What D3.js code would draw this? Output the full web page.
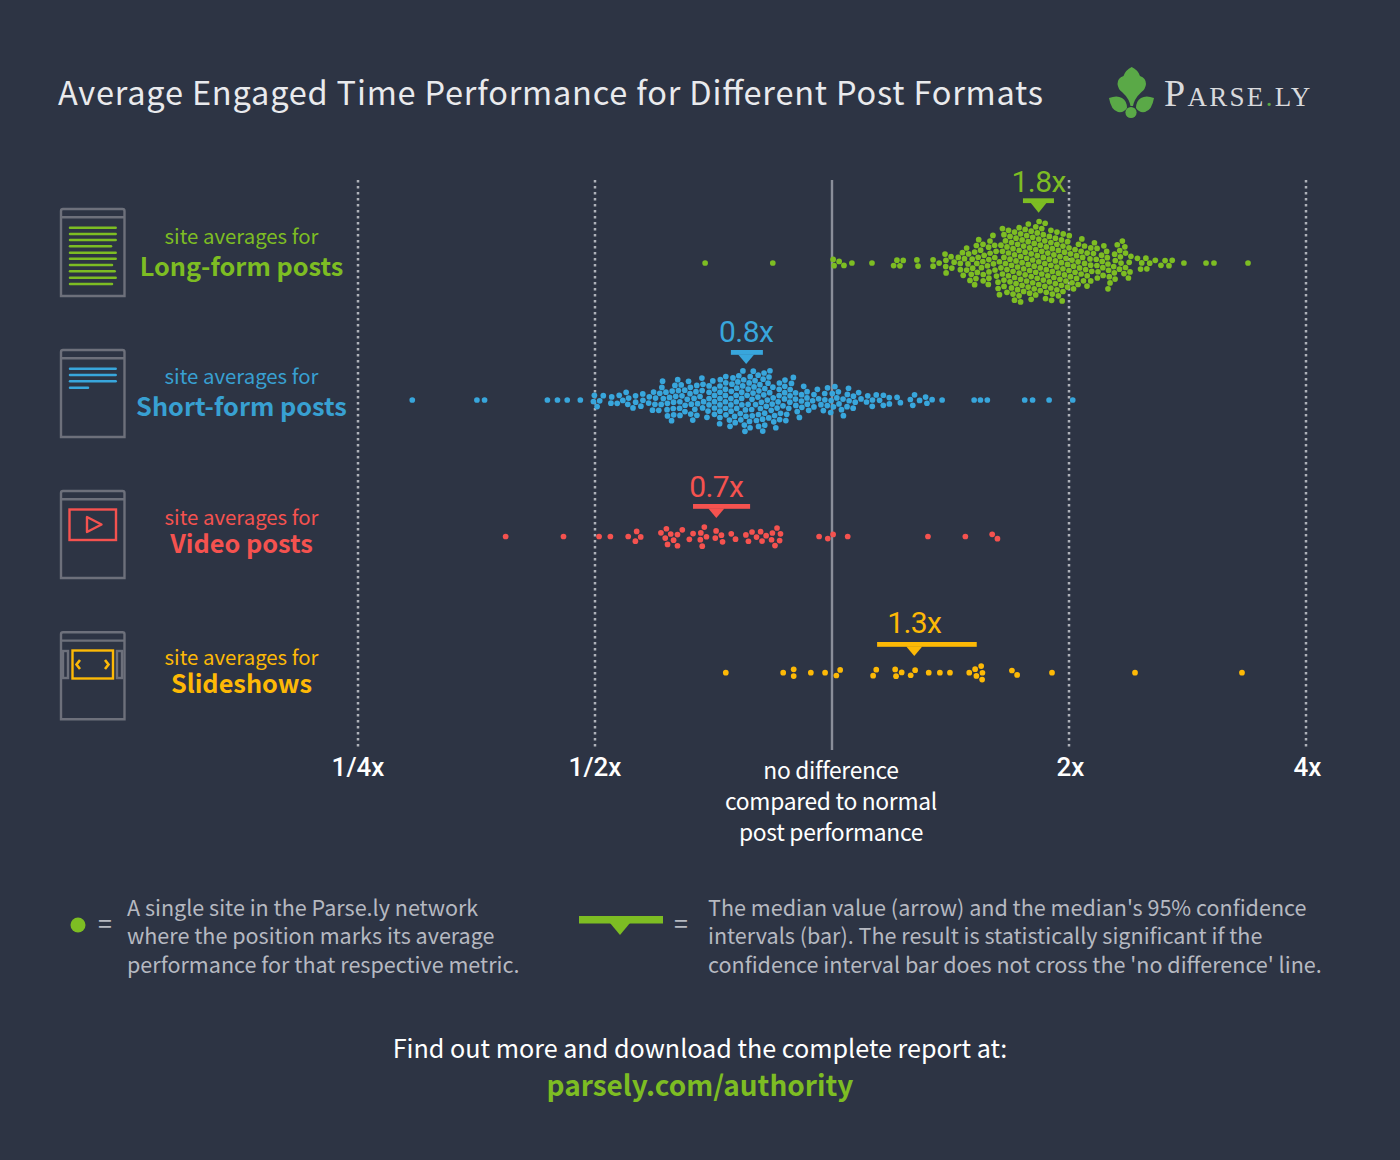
<!DOCTYPE html>
<html><head><meta charset="utf-8">
<script src="https://cdn.jsdelivr.net/npm/d3@7"></script>
<style>
html,body{margin:0;padding:0;background:#2d3444}
svg{display:block}
text{font-family:"Noto Sans CJK SC","Noto Sans",sans-serif}
</style></head><body>
<svg id="c" width="1400" height="1160"></svg>
<script>
const categories=["Long-form posts","Short-form posts","Video posts","Slideshows"];
const colors=["#7dbd23","#38a6dc","#f5524f","#fdb906"];
const textColors=["#7dbd23","#38a0d2","#f5524f","#fdb906"];
const medians=[1.83,0.778,0.713,1.272];
const ciLow=[1.748,0.744,0.666,1.141];
const ciHigh=[1.914,0.817,0.787,1.527];
const medianLabels=["1.8x","0.8x","0.7x","1.3x"];
const tickValues=[0.25,0.5,1,2,4];
const tickLabels=["1/4x","1/2x","","2x","4x"];

const longForm=[0.690,0.841,1.004,1.006,1.021,1.035,1.060,1.124,1.198,1.209,1.220,1.231,1.282,1.286,1.344,1.344,1.368,
1.392,1.396,1.396,1.396,1.416,1.419,1.429,1.448,1.457,1.457,1.467,1.471,1.476,1.482,1.488,1.493,1.497,
1.501,1.503,1.508,1.511,1.516,1.518,1.523,1.526,1.531,1.533,1.539,1.540,1.546,1.548,1.553,1.557,1.559,1.565,1.567,1.572,1.575,1.579,1.583,1.587,1.590,1.595,1.597,1.603,1.605,1.610,1.613,1.617,1.621,1.626,1.630,
1.636,1.638,1.643,1.645,1.649,1.651,1.655,1.657,
1.660,1.663,1.665,1.668,1.669,1.672,1.675,1.676,1.680,1.681,1.684,1.686,1.689,1.690,1.693,1.695,1.698,1.699,1.702,1.705,1.706,
1.708,1.711,1.712,1.715,1.716,1.718,1.721,1.723,1.726,1.727,1.729,1.732,1.733,1.736,1.737,1.739,1.743,1.744,1.747,1.748,1.750,1.753,1.754,1.757,1.758,1.761,1.764,1.765,1.768,1.769,1.771,1.774,1.775,1.778,1.780,1.782,1.785,1.786,1.789,1.790,1.792,1.795,1.796,1.799,1.802,1.803,1.806,1.807,1.810,1.811,1.813,1.816,1.818,1.821,1.822,1.824,1.827,1.828,1.831,1.832,1.834,1.837,
1.839,1.843,1.844,1.848,1.850,1.853,1.855,1.859,1.860,1.864,1.866,1.869,1.871,1.875,1.876,1.880,1.882,1.885,1.887,1.891,1.892,1.896,1.898,1.901,1.903,1.907,1.908,1.912,1.914,1.917,1.919,1.923,1.924,1.928,1.930,1.933,1.935,1.939,1.940,1.944,1.946,1.949,
1.951,1.955,1.957,1.961,1.963,1.967,1.969,1.973,1.975,1.979,1.981,1.985,1.987,1.991,1.993,1.997,1.999,2.003,
2.010,2.015,2.019,2.025,2.028,2.034,2.038,2.043,2.047,2.052,2.056,2.062,2.065,2.071,2.075,2.080,2.084,2.089,2.093,2.099,2.102,2.108,2.112,2.117,2.121,2.126,
2.132,2.139,2.145,2.152,2.158,2.166,2.171,2.179,2.184,2.192,2.198,2.205,2.211,2.218,2.224,2.232,2.237,2.245,2.250,2.258,2.264,2.271,2.277,2.284,2.290,2.298,2.303,2.311,2.316,2.324,2.330,2.337,2.343,2.350,2.356,2.364,2.369,2.377,2.382,2.390,
2.445,2.469,2.472,2.505,2.510,2.532,2.572,2.618,2.648,2.680,2.704,2.799,2.986,3.056,3.376];

const shortForm=[0.293,0.354,0.362,0.435,0.448,0.461,0.479,0.498,0.499,0.503,0.507,0.512,0.524,0.525,0.534,0.537,0.542,0.548,0.551,0.551,0.558,0.563,0.563,0.572,0.575,0.575,0.585,0.586,0.592,0.594,0.597,0.597,0.603,0.605,0.607,0.609,0.610,0.613,0.615,0.620,0.620,0.620,0.622,0.625,0.626,0.626,
0.628,0.631,0.632,0.634,0.636,0.638,0.640,0.642,0.643,0.645,0.647,0.649,0.651,0.652,0.654,0.656,0.658,0.660,0.661,0.663,0.665,0.667,0.669,0.671,0.673,0.675,0.677,0.679,
0.681,0.684,0.685,0.688,0.689,0.692,0.694,0.696,0.697,0.700,0.702,0.704,0.706,0.708,0.710,0.712,0.714,0.716,0.717,0.720,0.721,0.724,0.725,0.727,0.729,0.730,
0.732,0.734,0.735,0.737,0.738,0.739,0.741,0.742,0.744,0.745,0.746,0.748,0.749,0.751,0.752,0.753,0.755,0.757,0.758,0.759,0.761,0.762,0.764,0.765,0.767,0.768,0.769,0.771,0.772,0.774,0.775,
0.776,0.778,0.779,0.781,0.782,0.783,0.785,0.786,0.788,0.789,0.790,0.792,0.793,0.794,0.796,0.797,0.798,0.800,0.801,0.803,0.804,0.805,0.806,0.808,0.809,0.810,0.811,
0.812,0.814,0.815,0.817,0.818,0.820,0.822,0.823,0.825,0.826,0.828,0.830,0.831,0.833,0.834,0.836,0.838,0.839,0.841,0.842,0.844,0.845,0.847,
0.848,0.851,0.854,0.855,0.858,0.860,0.863,0.864,0.867,0.870,0.871,0.874,0.876,0.879,0.880,0.883,0.884,
0.888,0.892,0.895,0.899,0.901,0.906,0.908,0.913,0.915,0.919,0.922,0.926,0.928,0.931,
0.935,0.941,0.947,0.951,0.957,0.962,
0.969,0.975,0.980,0.980,0.986,0.992,0.997,0.997,0.999,1.004,1.010,1.015,1.015,1.022,1.028,1.033,1.033,1.046,1.046,1.049,1.051,1.063,1.063,1.067,1.079,1.089,1.106,1.111,1.125,1.125,1.138,1.150,1.162,1.163,1.181,1.182,1.210,1.221,1.259,1.266,1.272,1.292,1.315,1.320,1.340,1.380,1.516,1.543,1.575,1.757,1.798,1.887,2.022];

const video=[0.385,0.456,0.506,0.523,0.551,0.563,0.565,0.571,0.607,0.614,0.616,0.618,0.625,0.630,0.635,0.636,0.645,0.659,0.666,0.681,0.682,0.684,0.688,0.692,0.711,0.713,0.723,0.726,0.745,0.754,0.778,0.783,0.791,0.802,0.812,0.815,0.825,0.838,0.840,0.846,0.851,0.858,0.860,0.963,0.988,1.003,1.047,1.324,1.477,1.598,1.622];

const slideshows=[0.733,0.867,0.894,0.894,0.940,0.980,1.013,1.024,1.128,1.138,1.203,1.206,1.226,1.259,1.275,1.327,1.371,1.412,1.494,1.521,1.527,1.546,1.550,1.552,1.693,1.718,1.903,2.426,3.317];

const seriesValues=[longForm,shortForm,video,slideshows];
const rowCenters=[263,400,536.5,672.7];
const pullX=[0.5,0.5,0.9,0.9];
const collideR=[3.15,3.15,3.4,3.4];

const svg=d3.select("#c");
svg.append("rect").attr("width",1400).attr("height",1160).attr("fill","#2d3444");
const x=d3.scaleLog().base(2).domain([0.25,4]).range([358,1306]);

// Title
svg.append("text").attr("x",58).attr("y",104.500).attr("font-size",32.500).attr("fill","#e9eaed")
 .attr("textLength",985).attr("lengthAdjust","spacing")
 .text("Average Engaged Time Performance for Different Post Formats");

// Logo
const leafC="#5aa947";
const logo=svg.append("g");
logo.append("path").attr("fill",leafC).attr("d","M1131.700 67 Q1138 70 1140 76 Q1146 78 1146 84 Q1145.500 89 1141.500 92 Q1137 96 1135 100 Q1133.500 103 1133 106 L1130.500 106 Q1130 103 1128.500 100 Q1126.500 96 1122 92 Q1118 89 1117.500 84 Q1117.500 78 1123.500 76 Q1125.500 70 1131.700 67Z");
logo.append("path").attr("fill",leafC).attr("d","M1109 98 Q1117 95 1122 98 Q1127 101 1127 108 Q1124 113 1118 112 Q1111 110 1109 98Z");
logo.append("path").attr("fill",leafC).attr("d","M1154 98 Q1146 95 1141 98 Q1136 101 1136 108 Q1139 113 1145 112 Q1152 110 1154 98Z");
logo.append("circle").attr("cx",1131).attr("cy",112.500).attr("r",5.600).attr("fill",leafC);
const lt=logo.append("text").attr("x",1164).attr("y",105.500).style("font-family","'Liberation Serif',serif").attr("fill","#d9dadd").attr("letter-spacing",2.300);
lt.append("tspan").attr("font-size",38).text("P");
lt.append("tspan").attr("font-size",27).text("ARSE");
lt.append("tspan").attr("font-size",27).attr("fill",leafC).text(".");
lt.append("tspan").attr("font-size",27).text("LY");

// Axis with gridlines
const axisG=svg.append("g").attr("transform","translate(0,750)");
axisG.call(d3.axisBottom(x).tickValues(tickValues).tickSizeInner(-570).tickSizeOuter(0).tickPadding(6).offset(0)
  .tickFormat((d,i)=>tickLabels[i]));
axisG.select(".domain").remove();
axisG.selectAll(".tick line").attr("stroke-width",d=>d===1?2.400:2.500)
  .attr("stroke-dasharray",d=>d===1?null:"2.500 3.500")
  .attr("stroke-dashoffset",2.550)
  .attr("stroke",d=>d===1?"#8a8e9a":"#aeb1b9");
axisG.selectAll(".tick text").attr("fill","#fff").attr("font-size",26).attr("font-weight",500).attr("y",8).attr("dy","18px")
  .attr("x",d=>d>=2?1.500:0)
  .style("font-family","Roboto,sans-serif");

const note=svg.append("text").attr("text-anchor","middle").attr("fill","#fff").attr("font-size",22.800);
["no difference","compared to normal","post performance"].forEach((t,i)=>note.append("tspan").attr("x",831).attr("y",778.500+i*31).attr("letter-spacing",-0.300).text(t));

// Icons
const iconTop=[209,350,491,632.300];
const iconStroke="#6d707b";
svg.append("rect").attr("x",63).attr("y",651).attr("width",5).attr("height",27).attr("fill","none").attr("stroke",iconStroke).attr("stroke-width",2.400);
svg.append("rect").attr("x",117).attr("y",651).attr("width",5).attr("height",27).attr("fill","none").attr("stroke",iconStroke).attr("stroke-width",2.400);
iconTop.forEach(t=>{
 const g=svg.append("g").attr("fill","none").attr("stroke",iconStroke).attr("stroke-width",2.400);
 g.append("path").attr("d",`M61 ${t+2} Q61 ${t} 63 ${t} L122.500 ${t} Q124.500 ${t} 124.500 ${t+2} L124.500 ${t+87} L61 ${t+87} Z`);
 g.append("line").attr("x1",61).attr("x2",124.500).attr("y1",t+8.300).attr("y2",t+8.300);
});
const longLineEnds=[116.700,116.700,116.700,112,116.700,116.700,113,115.700,116.700,113];
const longLineY=[227.700,234,240,246.300,252.700,258.700,265,271.300,277.700,284];
longLineEnds.forEach((e,i)=>svg.append("line").attr("x1",70).attr("x2",e-1).attr("y1",longLineY[i]).attr("y2",longLineY[i]).attr("stroke",colors[0]).attr("stroke-width",2.500).attr("stroke-linecap","round"));
const shortLineEnds=[116.700,116.700,116.700,89];
const shortLineY=[368.700,375,381.300,387.700];
shortLineEnds.forEach((e,i)=>svg.append("line").attr("x1",70).attr("x2",e-1).attr("y1",shortLineY[i]).attr("y2",shortLineY[i]).attr("stroke",colors[1]).attr("stroke-width",2.500).attr("stroke-linecap","round"));
svg.append("rect").attr("x",69.500).attr("y",509.500).attr("width",46.500).attr("height",30.500).attr("fill","none").attr("stroke",colors[2]).attr("stroke-width",2.400);
svg.append("path").attr("d","M87 517 L87 532 L101.500 524.500 Z").attr("fill","none").attr("stroke",colors[2]).attr("stroke-width",2.400).attr("stroke-linejoin","round");
svg.append("rect").attr("x",72.500).attr("y",650.500).attr("width",40.500).attr("height",28).attr("fill","#2d3444").attr("stroke",colors[3]).attr("stroke-width",2.400);
svg.append("path").attr("d","M80 660 L76.500 664.500 L80 669 M105 660 L108.500 664.500 L105 669").attr("fill","none").attr("stroke",colors[3]).attr("stroke-width",2.600);

// Row labels
const smallBase=[244,384.300,525,665.200];
const boldBase=[276,416,552.500,692.800];
categories.forEach((c,i)=>{
 svg.append("text").attr("x",241.500).attr("y",smallBase[i]).attr("text-anchor","middle").attr("font-size",20.400).attr("fill",textColors[i]).text("site averages for");
 svg.append("text").attr("x",241.500).attr("y",boldBase[i]).attr("text-anchor","middle").attr("font-size",25.300).attr("font-weight",700).attr("fill",textColors[i]).text(c);
});

// Swarms
seriesValues.forEach((vals,i)=>{
 const nodes=vals.map(v=>({v,tx:x(v),x:x(v),y:rowCenters[i]}));
 const sim=d3.forceSimulation(nodes)
   .force("x",d3.forceX(d=>d.tx).strength(pullX[i]))
   .force("y",d3.forceY(rowCenters[i]).strength(0.03))
   .force("c",d3.forceCollide(collideR[i]).iterations(6))
   .alphaDecay(0.012)
   .stop();
 sim.tick(560);
 svg.append("g").selectAll("circle").data(nodes).join("circle")
   .attr("cx",d=>d.x).attr("cy",d=>d.y).attr("r",2.850).attr("fill",colors[i]);
});

// Median markers
const barTopOffset=[-64.700,-50,-32.500,-30.700];
const tipOffset=[-50.300,-36,-18.500,-16.700];
const labelOffset=[-71.500,-58.300,-39.800,-39.400];
categories.forEach((c,i)=>{
 const mx=x(medians[i]),cy=rowCenters[i];
 svg.append("rect").attr("x",x(ciLow[i])).attr("width",x(ciHigh[i])-x(ciLow[i])).attr("y",cy+barTopOffset[i]).attr("height",4.800).attr("fill",colors[i]);
 svg.append("path").attr("d",d3.line()([[mx-8,cy+barTopOffset[i]+4.500],[mx+8,cy+barTopOffset[i]+4.500],[mx,cy+tipOffset[i]]])+"Z").attr("fill",colors[i]);
 svg.append("text").attr("x",mx).attr("y",cy+labelOffset[i]).attr("text-anchor","middle").style("font-family","Roboto,sans-serif").attr("font-size",30).attr("letter-spacing",-0.600).attr("fill",colors[i]).text(medianLabels[i]);
});

// Legend
const legendColor="#b6b9c1";
svg.append("circle").attr("cx",78).attr("cy",925).attr("r",7.500).attr("fill",colors[0]);
svg.append("text").attr("x",98).attr("y",933).attr("font-size",25).attr("fill",legendColor).text("=");
["A single site in the Parse.ly network","where the position marks its average","performance for that respective metric."].forEach((t,i)=>
 svg.append("text").attr("x",127).attr("y",915.800+i*28.600).attr("font-size",21.550).attr("fill",legendColor).text(t));
svg.append("rect").attr("x",579).attr("y",916).attr("width",84).attr("height",7.500).attr("fill",colors[0]);
svg.append("path").attr("d","M610 923 L630 923 L620 935 Z").attr("fill",colors[0]);
svg.append("text").attr("x",674).attr("y",933).attr("font-size",25).attr("fill",legendColor).text("=");
["The median value (arrow) and the median's 95% confidence","intervals (bar). The result is statistically significant if the","confidence interval bar does not cross the 'no difference' line."].forEach((t,i)=>
 svg.append("text").attr("x",708).attr("y",915.800+i*28.600).attr("font-size",21.550).attr("fill",legendColor).text(t));

// Footer
svg.append("text").attr("x",700).attr("y",1057.500).attr("text-anchor","middle").attr("font-size",25.150).attr("fill","#fff").text("Find out more and download the complete report at:");
svg.append("text").attr("x",700).attr("y",1095.500).attr("text-anchor","middle").attr("font-size",28).attr("font-weight",700).attr("fill",colors[0]).text("parsely.com/authority");
</script></body></html>
